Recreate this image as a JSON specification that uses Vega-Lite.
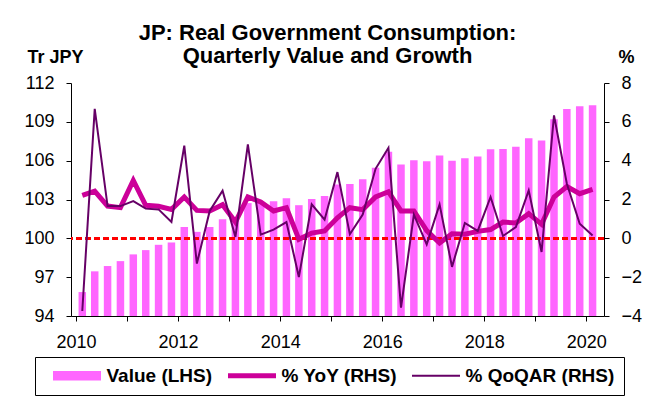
{
  "$schema": "https://vega.github.io/schema/vega-lite/v6.json",
  "autosize": {"type": "none"},
  "width": 533,
  "height": 233,
  "padding": {"left": 71, "top": 83, "right": 42, "bottom": 85},
  "background": "white",
  "config": {
    "font": "Liberation Sans",
    "view": {"stroke": null},
    "axis": {
      "labelColor": "black", "domainColor": "black", "tickColor": "black",
      "grid": false, "labelFontSize": 18, "tickSize": 5, "labelPadding": 12,
      "titleColor": "black", "titleFontSize": 18, "titleFontWeight": "bold",
      "labelFont": "Liberation Sans", "titleFont": "Liberation Sans",
      "domainWidth": 1, "tickWidth": 1, "labelOverlap": false, "labelFlush": false
    }
  },
  "title": {
    "text": ["JP: Real Government Consumption:", "Quarterly Value and Growth"],
    "fontSize": 22, "fontWeight": "bold", "lineHeight": 23, "color": "black",
    "anchor": "middle", "dx": -10, "dy": 24, "font": "Liberation Sans"
  },
  "data": {
    "values": [
      {"date": "2010-02-15", "value": 95.85, "yoy": 2.21, "qoq": -3.74},
      {"date": "2010-05-15", "value": 97.45, "yoy": 2.43, "qoq": 6.67},
      {"date": "2010-08-15", "value": 97.86, "yoy": 1.66, "qoq": 1.66},
      {"date": "2010-11-15", "value": 98.24, "yoy": 1.58, "qoq": 1.66},
      {"date": "2011-02-15", "value": 98.76, "yoy": 2.98, "qoq": 1.92},
      {"date": "2011-05-15", "value": 99.09, "yoy": 1.70, "qoq": 1.53},
      {"date": "2011-08-15", "value": 99.5, "yoy": 1.65, "qoq": 1.49},
      {"date": "2011-11-15", "value": 99.68, "yoy": 1.49, "qoq": 0.84},
      {"date": "2012-02-15", "value": 100.87, "yoy": 2.13, "qoq": 4.77},
      {"date": "2012-05-15", "value": 100.5, "yoy": 1.44, "qoq": -1.30},
      {"date": "2012-08-15", "value": 100.87, "yoy": 1.41, "qoq": 1.41},
      {"date": "2012-11-15", "value": 101.48, "yoy": 1.73, "qoq": 2.45},
      {"date": "2013-02-15", "value": 101.5, "yoy": 0.84, "qoq": 0.07},
      {"date": "2013-05-15", "value": 102.72, "yoy": 2.13, "qoq": 4.84},
      {"date": "2013-08-15", "value": 102.77, "yoy": 1.87, "qoq": 0.19},
      {"date": "2013-11-15", "value": 102.87, "yoy": 1.41, "qoq": 0.45},
      {"date": "2014-02-15", "value": 103.1, "yoy": 1.58, "qoq": 0.84},
      {"date": "2014-05-15", "value": 102.56, "yoy": -0.05, "qoq": -1.99},
      {"date": "2014-08-15", "value": 103.03, "yoy": 0.27, "qoq": 1.75},
      {"date": "2014-11-15", "value": 103.28, "yoy": 0.38, "qoq": 0.96},
      {"date": "2015-02-15", "value": 104.15, "yoy": 1.06, "qoq": 3.41},
      {"date": "2015-05-15", "value": 104.2, "yoy": 1.58, "qoq": 0.21},
      {"date": "2015-08-15", "value": 104.57, "yoy": 1.48, "qoq": 1.22},
      {"date": "2015-11-15", "value": 105.45, "yoy": 2.13, "qoq": 3.58},
      {"date": "2016-02-15", "value": 106.68, "yoy": 2.40, "qoq": 4.66},
      {"date": "2016-05-15", "value": 105.7, "yoy": 1.41, "qoq": -3.57},
      {"date": "2016-08-15", "value": 106.04, "yoy": 1.41, "qoq": 1.22},
      {"date": "2016-11-15", "value": 105.96, "yoy": 0.40, "qoq": -0.31},
      {"date": "2017-02-15", "value": 106.4, "yoy": -0.24, "qoq": 1.75},
      {"date": "2017-05-15", "value": 106.0, "yoy": 0.24, "qoq": -1.47},
      {"date": "2017-08-15", "value": 106.19, "yoy": 0.21, "qoq": 0.79},
      {"date": "2017-11-15", "value": 106.32, "yoy": 0.36, "qoq": 0.38},
      {"date": "2018-02-15", "value": 106.88, "yoy": 0.45, "qoq": 2.13},
      {"date": "2018-05-15", "value": 106.9, "yoy": 0.84, "qoq": 0.12},
      {"date": "2018-08-15", "value": 107.07, "yoy": 0.79, "qoq": 0.58},
      {"date": "2018-11-15", "value": 107.73, "yoy": 1.27, "qoq": 2.47},
      {"date": "2019-02-15", "value": 107.55, "yoy": 0.72, "qoq": -0.70},
      {"date": "2019-05-15", "value": 109.2, "yoy": 2.13, "qoq": 6.33},
      {"date": "2019-08-15", "value": 110.0, "yoy": 2.67, "qoq": 2.81},
      {"date": "2019-11-15", "value": 110.2, "yoy": 2.30, "qoq": 0.75},
      {"date": "2020-02-15", "value": 110.28, "yoy": 2.52, "qoq": 0.15}
    ]
  },
  "layer": [
    {
      "mark": {"type": "bar", "width": 7.5},
      "encoding": {
        "x": {
          "field": "date", "type": "temporal",
          "scale": {"domain": [{"year": 2010, "month": 1, "date": 1}, {"year": 2020, "month": 4, "date": 1}], "nice": false},
          "axis": {
            "title": null,
            "values": [{"year": 2010, "month": 1, "date": 1}, {"year": 2011, "month": 1, "date": 1}, {"year": 2012, "month": 1, "date": 1}, {"year": 2013, "month": 1, "date": 1}, {"year": 2014, "month": 1, "date": 1}, {"year": 2015, "month": 1, "date": 1}, {"year": 2016, "month": 1, "date": 1}, {"year": 2017, "month": 1, "date": 1}, {"year": 2018, "month": 1, "date": 1}, {"year": 2019, "month": 1, "date": 1}, {"year": 2020, "month": 1, "date": 1}],
            "labelExpr": "year(datum.value) % 2 === 0 ? timeFormat(datum.value, '%Y') : ''"
          }
        },
        "y": {
          "field": "value", "type": "quantitative",
          "scale": {"domain": [94, 112], "nice": false, "zero": false},
          "axis": {
            "orient": "left", "values": [94, 97, 100, 103, 106, 109, 112],
            "title": "Tr JPY", "titleAngle": 0, "titleAlign": "center", "titleBaseline": "alphabetic",
            "titleX": -16, "titleY": -21
          }
        },
        "y2": {"datum": 94},
        "color": {
          "datum": "Value (LHS)",
          "scale": {"domain": ["Value (LHS)", "% YoY (RHS)", "% QoQAR (RHS)"], "range": ["#FF66FF", "#CC0099", "#660066"]},
          "legend": {
            "title": null, "orient": "none", "direction": "horizontal", "columns": 3,
            "legendX": -36, "legendY": 274,
            "padding": 9, "strokeColor": "black", "fillColor": "white",
            "labelFontSize": 19, "labelFontWeight": "bold", "labelColor": "black", "labelFont": "Liberation Sans",
            "labelOffset": 20, "symbolOffset": 23.5, "columnPadding": 5, "symbolSize": 2304, "labelLimit": 400,
            "encode": {
              "symbols": {
                "update": {
                  "shape": {"signal": "datum.value === 'Value (LHS)' ? 'M-1,-0.2H1V0.2H-1Z' : 'stroke'"},
                  "opacity": {"value": 1},
                  "fill": {"signal": "datum.value === 'Value (LHS)' ? '#FF66FF' : 'transparent'"},
                  "fillOpacity": {"value": 1},
                  "stroke": {"signal": "datum.value === '% YoY (RHS)' ? '#CC0099' : (datum.value === '% QoQAR (RHS)' ? '#660066' : 'transparent')"},
                  "strokeOpacity": {"value": 1},
                  "strokeWidth": {"signal": "datum.value === '% YoY (RHS)' ? 5 : (datum.value === '% QoQAR (RHS)' ? 2 : 0)"}
                }
              }
            }
          }
        }
      }
    },
    {
      "layer": [
        {
          "mark": {"type": "rule", "color": "#FF0000", "strokeWidth": 2, "strokeDash": [6, 3]},
          "encoding": {
            "y": {
              "datum": 0, "type": "quantitative",
              "scale": {"domain": [-4, 8], "nice": false, "zero": false},
              "axis": {
                "orient": "right", "values": [-4, -2, 0, 2, 4, 6, 8],
                "title": "%", "titleAngle": 0, "titleAlign": "center", "titleBaseline": "alphabetic",
                "titleX": 22, "titleY": -21
              }
            }
          }
        },
        {
          "mark": {"type": "line", "strokeWidth": 5},
          "encoding": {
            "x": {
              "field": "date", "type": "temporal",
              "scale": {"domain": [{"year": 2010, "month": 1, "date": 1}, {"year": 2020, "month": 4, "date": 1}], "nice": false},
              "axis": {
                "title": null,
                "values": [{"year": 2010, "month": 1, "date": 1}, {"year": 2011, "month": 1, "date": 1}, {"year": 2012, "month": 1, "date": 1}, {"year": 2013, "month": 1, "date": 1}, {"year": 2014, "month": 1, "date": 1}, {"year": 2015, "month": 1, "date": 1}, {"year": 2016, "month": 1, "date": 1}, {"year": 2017, "month": 1, "date": 1}, {"year": 2018, "month": 1, "date": 1}, {"year": 2019, "month": 1, "date": 1}, {"year": 2020, "month": 1, "date": 1}],
                "labelExpr": "year(datum.value) % 2 === 0 ? timeFormat(datum.value, '%Y') : ''"
              }
            },
            "y": {
              "field": "yoy", "type": "quantitative",
              "scale": {"domain": [-4, 8], "nice": false, "zero": false},
              "axis": {
                "orient": "right", "values": [-4, -2, 0, 2, 4, 6, 8],
                "title": "%", "titleAngle": 0, "titleAlign": "center", "titleBaseline": "alphabetic",
                "titleX": 22, "titleY": -21
              }
            },
            "color": {"datum": "% YoY (RHS)"}
          }
        },
        {
          "mark": {"type": "line", "strokeWidth": 2},
          "encoding": {
            "x": {
              "field": "date", "type": "temporal",
              "scale": {"domain": [{"year": 2010, "month": 1, "date": 1}, {"year": 2020, "month": 4, "date": 1}], "nice": false},
              "axis": {
                "title": null,
                "values": [{"year": 2010, "month": 1, "date": 1}, {"year": 2011, "month": 1, "date": 1}, {"year": 2012, "month": 1, "date": 1}, {"year": 2013, "month": 1, "date": 1}, {"year": 2014, "month": 1, "date": 1}, {"year": 2015, "month": 1, "date": 1}, {"year": 2016, "month": 1, "date": 1}, {"year": 2017, "month": 1, "date": 1}, {"year": 2018, "month": 1, "date": 1}, {"year": 2019, "month": 1, "date": 1}, {"year": 2020, "month": 1, "date": 1}],
                "labelExpr": "year(datum.value) % 2 === 0 ? timeFormat(datum.value, '%Y') : ''"
              }
            },
            "y": {
              "field": "qoq", "type": "quantitative",
              "scale": {"domain": [-4, 8], "nice": false, "zero": false},
              "axis": {
                "orient": "right", "values": [-4, -2, 0, 2, 4, 6, 8],
                "title": "%", "titleAngle": 0, "titleAlign": "center", "titleBaseline": "alphabetic",
                "titleX": 22, "titleY": -21
              }
            },
            "color": {"datum": "% QoQAR (RHS)"}
          }
        }
      ]
    }
  ],
  "resolve": {"scale": {"y": "independent"}}
}
